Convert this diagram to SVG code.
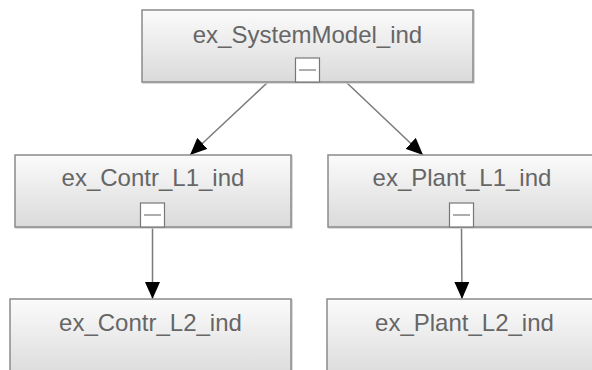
<svg xmlns="http://www.w3.org/2000/svg" width="592" height="370" viewBox="0 0 592 370">
<defs>
<linearGradient id="g" x1="0" y1="0" x2="0" y2="1">
<stop offset="0" stop-color="#fbfbfb"/>
<stop offset="1" stop-color="#dadada"/>
</linearGradient>
<marker id="arr" viewBox="0 0 17 15" refX="17" refY="7.5" markerWidth="17" markerHeight="15" markerUnits="userSpaceOnUse" orient="auto">
<path d="M0,0 L17,7.5 L0,15 z" fill="#000"/>
</marker>
<style>
.node{fill:url(#g);stroke:#8a8a8a;stroke-width:1.5}
.shadow{fill:none;stroke:#cfcfcf;stroke-width:1.5}
.lbl{font-family:"Liberation Sans",Arial,sans-serif;font-size:24px;fill:#666;text-anchor:middle}
.tog{fill:#fff;stroke:#777;stroke-width:1.2}
.togl{stroke:#777;stroke-width:1.2}
.edge{stroke:#7a7a7a;stroke-width:1.5;fill:none;marker-end:url(#arr)}
</style>
</defs>
<g id="connectors">
<line class="edge" x1="268" y1="82" x2="190" y2="155"/>
<line class="edge" x1="346" y1="82" x2="423" y2="155"/>
<line class="edge" x1="152.5" y1="227" x2="152.5" y2="299"/>
<line class="edge" x1="461.5" y1="227" x2="462" y2="299"/>
</g>
<g id="n_SystemModel">
<rect class="shadow" x="143" y="11" width="331" height="72"/>
<rect class="node" x="142" y="10" width="331" height="72"/>
<text class="lbl" x="307.5" y="43">ex_SystemModel_ind</text>
<rect class="tog" x="295.5" y="58" width="24" height="24"/>
<line class="togl" x1="299" y1="70" x2="316" y2="70"/>
</g>
<g id="n_Contr_L1">
<rect class="shadow" x="16" y="156" width="276" height="72"/>
<rect class="node" x="15" y="155" width="276" height="72"/>
<text class="lbl" x="153" y="186">ex_Contr_L1_ind</text>
<rect class="tog" x="140.5" y="203" width="24" height="24"/>
<line class="togl" x1="144" y1="215" x2="161" y2="215"/>
</g>
<g id="n_Plant_L1">
<rect class="shadow" x="329" y="156" width="268" height="72"/>
<rect class="node" x="328" y="155" width="268" height="72"/>
<text class="lbl" x="462" y="186">ex_Plant_L1_ind</text>
<rect class="tog" x="449.5" y="203" width="24" height="24"/>
<line class="togl" x1="453" y1="215" x2="470" y2="215"/>
</g>
<g id="n_Contr_L2">
<rect class="shadow" x="11" y="300" width="281" height="80"/>
<rect class="node" x="10" y="299" width="281" height="80"/>
<text class="lbl" x="150.5" y="331">ex_Contr_L2_ind</text>
</g>
<g id="n_Plant_L2">
<rect class="shadow" x="328" y="300" width="275" height="80"/>
<rect class="node" x="327" y="299" width="275" height="80"/>
<text class="lbl" x="464.5" y="331">ex_Plant_L2_ind</text>
</g>
</svg>
